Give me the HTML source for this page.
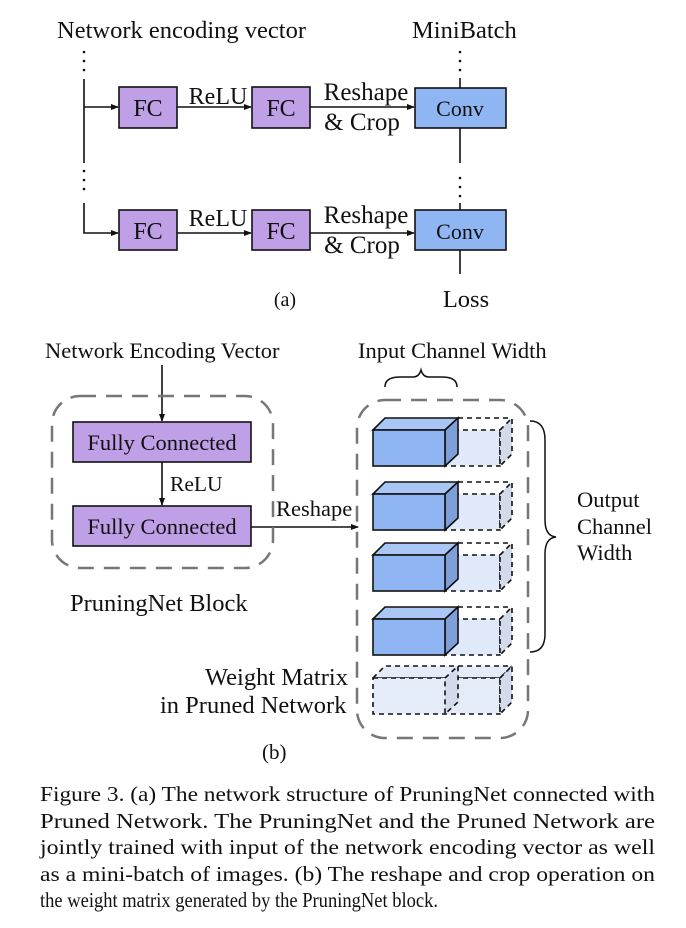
<!DOCTYPE html>
<html><head><meta charset="utf-8"><style>
html,body{margin:0;padding:0;background:#fff;}
svg{display:block;}
text{font-family:"Liberation Serif",serif;fill:#111;}
</style></head><body>
<svg width="686" height="928" viewBox="0 0 686 928" xmlns="http://www.w3.org/2000/svg">
<defs>
<marker id="ar" markerWidth="8" markerHeight="8" refX="7" refY="4" orient="auto" markerUnits="userSpaceOnUse">
<path d="M0,1 L8,4 L0,7 Z" fill="#111"/></marker>
<g id="cube">
  <path d="M445,0 L500,0 L500,36 L445,36 Z" fill="#dfe9fa" stroke="#111" stroke-width="1.6" stroke-dasharray="5,4"/>
  <path d="M500,0 L512,-12 L512,24 L500,36 Z" fill="#d3dbea" stroke="#111" stroke-width="1.6" stroke-dasharray="5,4"/>
  <path d="M458,-12 L512,-12" fill="none" stroke="#111" stroke-width="1.6" stroke-dasharray="5,4"/>
  <path d="M373,0 L385,-12 L458,-12 L445,0 Z" fill="#a9c6f5" stroke="#111" stroke-width="1.6"/>
  <path d="M445,0 L458,-12 L458,24 L445,36 Z" fill="#7f9fd8" stroke="#111" stroke-width="1.6"/>
  <rect x="373" y="0" width="72" height="36" fill="#8fb5f2" stroke="#111" stroke-width="1.6"/>
</g>
</defs>

<!-- (a) -->
<text x="57" y="38" font-size="24.5">Network encoding vector</text>
<text x="412" y="38" font-size="24.5">MiniBatch</text>
<g fill="#111">
<circle cx="84" cy="52" r="1.3"/><circle cx="84" cy="61" r="1.3"/><circle cx="84" cy="70" r="1.3"/>
<circle cx="84" cy="171" r="1.3"/><circle cx="84" cy="180" r="1.3"/><circle cx="84" cy="189" r="1.3"/>
<circle cx="460" cy="52" r="1.3"/><circle cx="460" cy="61" r="1.3"/><circle cx="460" cy="70" r="1.3"/>
<circle cx="460" cy="178" r="1.3"/><circle cx="460" cy="187" r="1.3"/><circle cx="460" cy="196" r="1.3"/>
</g>
<g stroke="#111" stroke-width="1.6" fill="none">
<path d="M84,79 L84,163"/>
<path d="M84,107 L118,107" marker-end="url(#ar)"/>
<path d="M84,203 L84,233 L118,233" marker-end="url(#ar)"/>
<path d="M177,107 L251,107" marker-end="url(#ar)"/>
<path d="M177,233 L251,233" marker-end="url(#ar)"/>
<path d="M310,107 L414,107" marker-end="url(#ar)"/>
<path d="M310,233 L414,233" marker-end="url(#ar)"/>
<path d="M460,78 L460,88"/><path d="M460,128 L460,163"/>
<path d="M460,203 L460,210"/><path d="M460,250 L460,274"/>
</g>
<g stroke="#111" stroke-width="1.6">
<rect x="119" y="87" width="58" height="41" fill="#bf9fe6"/>
<rect x="252" y="87" width="58" height="41" fill="#bf9fe6"/>
<rect x="415" y="88" width="91" height="40" fill="#8fb5f2"/>
<rect x="119" y="210" width="58" height="40" fill="#bf9fe6"/>
<rect x="252" y="210" width="58" height="40" fill="#bf9fe6"/>
<rect x="415" y="210" width="91" height="40" fill="#8fb5f2"/>
</g>
<g font-size="24" text-anchor="middle">
<text x="148" y="116">FC</text><text x="281" y="116">FC</text><text x="460" y="116" font-size="22">Conv</text>
<text x="148" y="239">FC</text><text x="281" y="239">FC</text><text x="460" y="239" font-size="22">Conv</text>
<text x="218" y="104">ReLU</text><text x="218" y="226">ReLU</text>
<text x="366" y="100" font-size="25">Reshape</text><text x="362" y="130" font-size="25">&amp; Crop</text>
<text x="366" y="223" font-size="25">Reshape</text><text x="362" y="253" font-size="25">&amp; Crop</text>
<text x="285" y="306" font-size="20">(a)</text>
<text x="466" y="307" font-size="24.5">Loss</text>
</g>

<!-- (b) -->
<text x="45" y="358" font-size="22.5">Network Encoding Vector</text>
<text x="358" y="358" font-size="22.5">Input Channel Width</text>
<path d="M385,387 Q385,377 400,377 L413,377 Q419,377 421,370 Q423,377 429,377 L442,377 Q457,377 457,387" fill="none" stroke="#111" stroke-width="1.5"/>
<g stroke="#111" stroke-width="1.6" fill="none">
<path d="M162,365 L162,421" marker-end="url(#ar)"/>
<path d="M162,462 L162,505" marker-end="url(#ar)"/>
<path d="M251,527 L358,527" marker-end="url(#ar)"/>
</g>
<rect x="52" y="396" width="221" height="172" rx="28" fill="none" stroke="#777" stroke-width="2.5" stroke-dasharray="16,10"/>
<rect x="357" y="400" width="171" height="338" rx="28" fill="none" stroke="#777" stroke-width="2.5" stroke-dasharray="16,10"/>
<rect x="73" y="422" width="178" height="40" fill="#bf9fe6" stroke="#111" stroke-width="1.6"/>
<rect x="73" y="506" width="178" height="40" fill="#bf9fe6" stroke="#111" stroke-width="1.6"/>
<g font-size="22.5">
<text x="162" y="450" text-anchor="middle">Fully Connected</text>
<text x="162" y="534" text-anchor="middle">Fully Connected</text>
<text x="170" y="491" font-size="21.5">ReLU</text>
<text x="276" y="516">Reshape</text>
<text x="70" y="611" font-size="24.5">PruningNet Block</text>
<text x="205" y="685" font-size="24.5">Weight Matrix</text>
<text x="160" y="713" font-size="24.5">in Pruned Network</text>
<text x="577" y="507">Output</text>
<text x="577" y="534">Channel</text>
<text x="577" y="560">Width</text>
<text x="262" y="759" font-size="21">(b)</text>
</g>
<use href="#cube" transform="translate(0,430)"/>
<use href="#cube" transform="translate(0,494)"/>
<use href="#cube" transform="translate(0,555)"/>
<use href="#cube" transform="translate(0,619)"/>
<g stroke="#111" stroke-width="1.6" stroke-dasharray="5,4">
<path d="M373,678 L385,666 L512,666 L500,678 Z" fill="#e4ecfa"/>
<rect x="373" y="678" width="127" height="36" fill="#e4ecfa"/>
<path d="M500,678 L512,666 L512,702 L500,714 Z" fill="#d3dbea"/>
<path d="M445,678 L458,666 L458,702 L445,714 Z" fill="#d3dbea"/>
</g>
<path d="M530,421 Q545,421 545,440 L545,520 Q545,536 556,537 Q545,538 545,554 L545,634 Q545,652 530,652" fill="none" stroke="#111" stroke-width="1.5"/>

<!-- caption -->
<g font-size="21">
<text x="40" y="801" textLength="615" lengthAdjust="spacingAndGlyphs">Figure 3. (a) The network structure of PruningNet connected with</text>
<text x="40" y="828" textLength="615" lengthAdjust="spacingAndGlyphs">Pruned Network.  The PruningNet and the Pruned Network are</text>
<text x="40" y="854" textLength="615" lengthAdjust="spacingAndGlyphs">jointly trained with input of the network encoding vector as well</text>
<text x="40" y="881" textLength="615" lengthAdjust="spacingAndGlyphs">as a mini-batch of images. (b) The reshape and crop operation on</text>
<text x="40" y="907" textLength="398" lengthAdjust="spacingAndGlyphs">the weight matrix generated by the PruningNet block.</text>
</g>
</svg>
</body></html>
